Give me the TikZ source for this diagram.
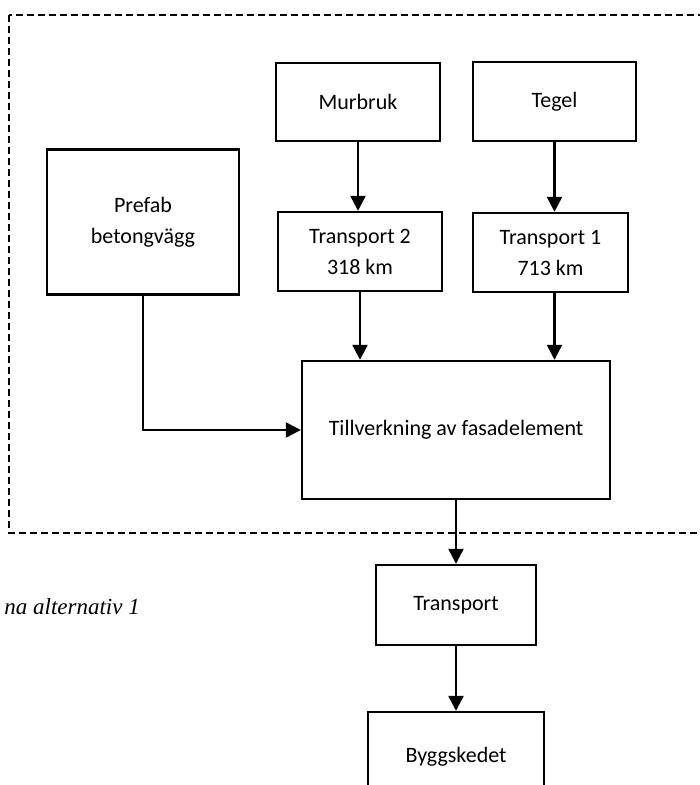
\documentclass[tikz,border=0pt]{standalone}
\usepackage{fontspec}
\setmainfont{Carlito}
\newfontfamily\capfont{Liberation Serif}
\usetikzlibrary{arrows.meta}

\begin{document}
\begin{tikzpicture}[x=1pt,y=-1pt,>={Triangle[length=15pt,width=15pt]},
  blk/.style={draw,line width=2.4pt,align=center,inner sep=0pt,font=\fontsize{22}{31}\selectfont},
  flow/.style={->,line width=2.4pt}]
\useasboundingbox (0,0) rectangle (700,785);
\clip (0,0) rectangle (700,785);
% system boundary
\draw[line width=2.4pt,dash pattern=on 7pt off 4pt] (9,15) rectangle (730,533);
\node[blk,minimum width=164pt,minimum height=78pt] (murbruk) at (358,102) {Murbruk};
\node[blk,minimum width=163pt,minimum height=79pt] (tegel) at (554.5,101.5) {Tegel};
\node[blk,minimum width=192pt,minimum height=145pt] (prefab) at (143,222) {Prefab\\betongvägg};
\node[blk,minimum width=164pt,minimum height=79pt] (tr2) at (360,251.5) {Transport 2\\318 km};
\node[blk,minimum width=155pt,minimum height=79pt] (tr1) at (550.5,252.5) {Transport 1\\713 km};
\node[blk,minimum width=308pt,minimum height=138pt] (tillv) at (456,430) {Tillverkning av fasadelement};
\node[blk,minimum width=160pt,minimum height=80pt] (transp) at (456,605) {Transport};
\node[blk,minimum width=176pt,minimum height=90pt] (bygg) at (456,757) {Byggskedet};
% caption, cut at the left edge
\node[font=\capfont\itshape\fontsize{23}{27}\selectfont,anchor=base east,inner sep=0pt] (cap) at (140,614) {na alternativ 1};
\draw[flow] (murbruk.south) -- (murbruk.south |- tr2.north);
\draw[flow] (tegel.south) -- (tegel.south |- tr1.north);
\draw[flow] (tr2.south) -- (tr2.south |- tillv.north);
\draw[flow] (tegel.south |- tr1.south) -- (tegel.south |- tillv.north);
\draw[flow] (prefab.south) |- (tillv.west);
\draw[flow] (tillv.south) -- (transp.north);
\draw[flow] (transp.south) -- (bygg.north);
\end{tikzpicture}
\end{document}
